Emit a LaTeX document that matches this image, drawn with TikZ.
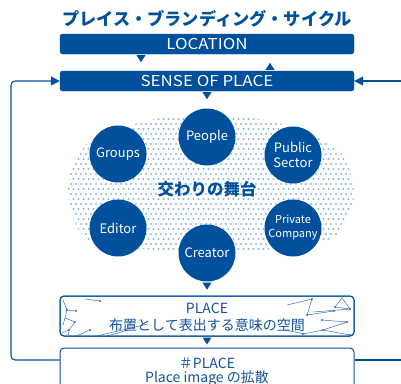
\documentclass[tikz,border=0pt]{standalone}
\usepackage{fontspec}
\setmainfont{Noto Sans CJK JP}
\newfontfamily\widelat[FakeStretch=1.13]{Noto Sans CJK JP}
\usetikzlibrary{arrows.meta}
\definecolor{dblue}{RGB}{0,80,158}
\definecolor{tblue}{RGB}{20,82,160}
\definecolor{dotblue}{RGB}{140,182,226}
\definecolor{netblue}{RGB}{60,110,180}
\tikzset{
  bar/.style={draw=dblue,fill=dblue,rounded corners=2.5pt,minimum width=294pt,minimum height=20pt,inner sep=0pt,text=white,font=\widelat\fontsize{15}{15}\selectfont},
  wbox/.style={draw=dblue,line width=1pt,fill=white,rounded corners=4pt,minimum width=294pt,inner sep=0pt},
  actor/.style={circle,fill=dblue,minimum size=57pt,inner sep=0pt,text=white,align=center,font=\fontsize{13}{15}\selectfont},
  conn/.style={draw=dblue,line width=1.1pt,rounded corners=4pt},
  tip/.style={-{Triangle[length=9pt,width=9pt]}},
  net/.style={draw=netblue,line width=0.5pt},
  ndot/.style={fill=netblue},
}
\begin{document}
\begin{tikzpicture}[x=1pt,y=-1pt]
\useasboundingbox (0,0) rectangle (401,383);
% dotted cloud
\begin{scope}
\clip plot[smooth cycle] coordinates {(68,192) (85,145) (150,120) (210,116) (275,122) (338,150) (354,196) (332,238) (262,250) (160,250) (88,240)};
\foreach \j in {0,...,28}{
  \pgfmathsetmacro{\off}{mod(\j,2)*2.5}
  \foreach \i in {0,...,60}{
    \fill[dotblue] (66+5*\i+\off,114+5*\j) circle (1.05);
  }
}
\end{scope}
% title
\node[text=dblue,font=\fontsize{17.2}{18}\selectfont\bfseries] (title) at (207,19) {プレイス・ブランディング・サイクル};
% bars
\node[bar] (loc) at (207,44) {LOCATION};
\node[bar] (sop) at (207,81) {SENSE OF PLACE};
% white boxes
\node[wbox,minimum height=40pt] (place) at (207,316) {};
\node[wbox,minimum height=62pt] (hplace) at (207,379) {};
% network decoration in PLACE box
\begin{scope}
\clip[rounded corners=4pt] (place.south west) rectangle (place.north east);
\draw[net] (85,299) -- (100,301);
\draw[net] (63,300) -- (67,310) -- (76,311);
\draw[net] (67,310) -- (65,318) -- (63,325);
\draw[net] (65,318) -- (75,322) -- (69,330) -- (62,333);
\draw[net] (69,330) -- (68,338);
\draw[net] (72,338) -- (90,330);
\draw[net] (88,338) -- (148,324);
\draw[net] (100,338) -- (128,330);
\foreach \p in {(100,301),(76,311),(75,322),(69,330),(90,330),(67,310)} \fill[ndot] \p circle (1.2);
\draw[net] (287,305) -- (312,299) -- (307,315) -- (334,311);
\draw[net] (342,298) -- (335,307) -- (350,309) -- cycle;
\draw[net] (313,312) -- (350,309);
\draw[net] (322,320) -- (347,322) -- (323,330) -- (350,335);
\draw[net] (303,334) -- (323,330);
\draw[net] (285,330) -- (305,334);
\foreach \p in {(312,299),(307,315),(334,311),(335,307),(350,309),(347,322),(323,330),(350,335),(303,334),(322,320)} \fill[ndot] \p circle (1.2);
\end{scope}
\node[wbox,minimum height=40pt,fill=none] (placeframe) at (207,316) {};
\node[text=tblue,align=center,font=\fontsize{14}{17}\selectfont,inner sep=0pt] (placetxt) at (207,317) {PLACE\\布置として表出する意味の空間};
\node[text=tblue,align=center,font=\fontsize{14}{14}\selectfont,inner sep=0pt] (hplacetxt) at (207,372) {＃PLACE\\Place image の拡散};
% actors
\node[actor] (people) at (207,137) {People};
\node[actor] (groups) at (118,154) {Groups};
\node[actor] (public) at (293,155) {Public\\Sector};
\node[actor] (editor) at (118,228) {Editor};
\node[actor] (creator) at (207,253) {Creator};
\node[actor,font=\fontsize{11}{14}\selectfont] (private) at (293,228) {Private\\Company};
\node[text=dblue,font=\fontsize{16.5}{17}\selectfont\bfseries] (stage) at (207,189) {交わりの舞台};
% small triangles
\fill[dblue] ([xshift=-66pt,yshift=-1pt]loc.south) ++(-4.5,0) -- ++(9,0) -- ++(-4.5,7) -- cycle;
\fill[dblue] ([xshift=63pt,yshift=1pt]sop.north) ++(-4.5,0) -- ++(9,0) -- ++(-4.5,-7) -- cycle;
\fill[dblue] ([yshift=-1pt]sop.south) ++(-4.5,0) -- ++(9,0) -- ++(-4.5,7) -- cycle;
\fill[dblue] ([yshift=-1pt]creator.south) ++(-4.5,0) -- ++(9,0) -- ++(-4.5,7) -- cycle;
\fill[dblue] ([yshift=-1pt]place.south) ++(-4.5,0) -- ++(9,0) -- ++(-4.5,7) -- cycle;
% cycle connectors
\coordinate (lend) at (11,0);
\coordinate (rfar) at (401,0);
\draw[conn,tip] (hplace.west |- 0,360) -| (lend |- sop.west) -- (sop.west);
\draw[conn,tip] (rfar |- sop.east) -- (sop.east);
\draw[conn] (hplace.east |- 0,360) -- (rfar |- 0,360);
\end{tikzpicture}
\end{document}
